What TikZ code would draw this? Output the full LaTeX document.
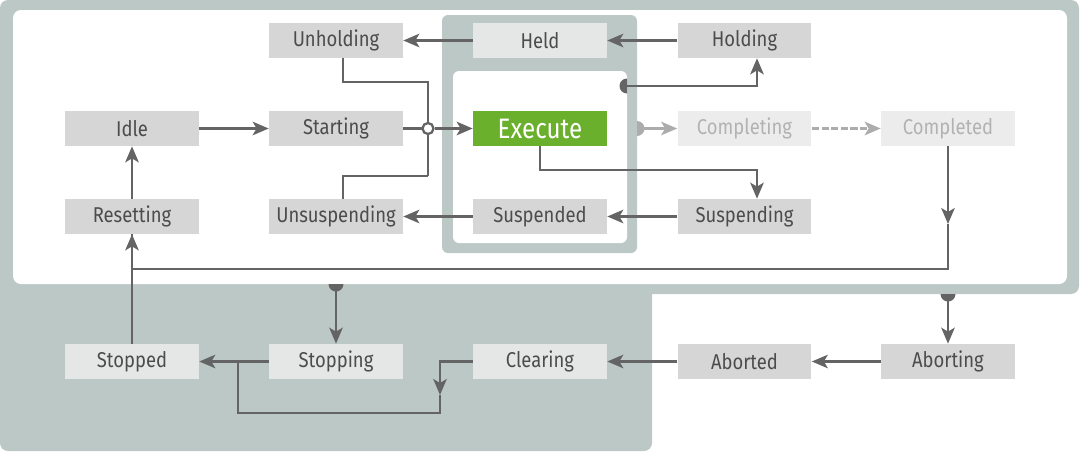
\documentclass[tikz,border=0pt]{standalone}
\usepackage{fontspec}
\setmainfont{Fira Sans}[FakeStretch=0.86]
\usepackage{xcolor}
\usepackage{tikz}
\usetikzlibrary{arrows.meta, positioning, calc}

\definecolor{framegrey}{RGB}{188,200,197}
\definecolor{boxgrey}{RGB}{214,214,214}
\definecolor{boxlight}{RGB}{228,231,230}
\definecolor{fadebox}{RGB}{236,236,236}
\definecolor{fadetext}{RGB}{178,178,178}
\definecolor{fadeline}{RGB}{172,172,172}
\definecolor{textgrey}{RGB}{76,76,76}
\definecolor{linegrey}{RGB}{100,100,100}
\definecolor{execgreen}{RGB}{106,176,45}

\begin{document}
\begin{tikzpicture}[x=0.02cm, y=-0.02cm,
  state/.style={fill=boxgrey, text=textgrey, minimum width=2.68cm, minimum height=0.7cm,
    inner sep=0pt, font=\fontsize{12.2}{14}\selectfont},
  onframe/.style={state, fill=boxlight},
  faded/.style={state, fill=fadebox, text=fadetext},
  active/.style={state, fill=execgreen, text=white, font=\fontsize{16}{18}\selectfont},
  line/.style={line width=1.3pt, draw=linegrey},
  flow/.style={line, -{Stealth[length=3.2mm, width=2.7mm, inset=0.8mm]}},
  fadeflow/.style={flow, draw=fadeline},
  junction/.style={circle, draw=linegrey, fill=white, line width=1.3pt, minimum size=0.22cm, inner sep=0pt}]

  \useasboundingbox (0,0) rectangle (1080,451);

  % Outer frame and lower left panel
  \fill[framegrey, rounded corners=0.16cm] (0,0) rectangle (1079,294);
  \fill[framegrey, rounded corners=0.16cm] (0,270) rectangle (652,451);
  \fill[white, rounded corners=0.16cm] (13,10) rectangle (1067,284);

  % Execute group
  \fill[framegrey, rounded corners=0.12cm] (442,15) rectangle (637,253);
  \fill[white, rounded corners=0.12cm] (453,71) rectangle (627,243);

  % States
  \node[state] (unholding) at (336,40.5) {Unholding};
  \node[onframe] (held) at (540,40.5) {Held};
  \node[state] (holding) at (744.5,40.5) {Holding};

  \node[state] (idle) at (132,128.5) {Idle};
  \node[state] (starting) at (336,128.5) {Starting};
  \node[active] (execute) at (540,128.5) {Execute};
  \node[faded] (completing) at (744.5,128.5) {Completing};
  \node[faded] (completed) at (948,128.5) {Completed};

  \node[state] (resetting) at (132,216.5) {Resetting};
  \node[state] (unsusp) at (336,216.5) {Unsuspending};
  \node[state] (suspended) at (540,216.5) {Suspended};
  \node[state] (suspending) at (744.5,216.5) {Suspending};

  \node[onframe] (stopped) at (132,361.5) {Stopped};
  \node[onframe] (stopping) at (336,361.5) {Stopping};
  \node[onframe] (clearing) at (540,361.5) {Clearing};
  \node[state] (aborted) at (744.5,361.5) {Aborted};
  \node[state] (aborting) at (948,361.5) {Aborting};

  % Helper points
  \coordinate (uh) at (428,82);
  \coordinate (us) at (428,176);
  \coordinate (es) at (757,170);
  \coordinate (hx) at (627,86);
  \coordinate (cx) at (637,128.5);
  \coordinate (cmid) at (948,224);
  \coordinate (back) at (948,269);
  \coordinate (sx) at (336,284);
  \coordinate (ax) at (948,294);
  \coordinate (cd) at (440,395);
  \coordinate (cb) at (440,413);
  \coordinate (cm) at (238,361.5);

  % Top row
  \draw[flow] (holding) -- (held);
  \draw[flow] (held) -- (unholding);

  % Into Execute
  \draw[flow] (idle) -- (starting);
  \draw[line] ([xshift=0.14cm]unholding.south) |- (uh) -- (us);
  \draw[line] ([xshift=0.14cm]unsusp.north) |- (us);
  \draw[line] (starting) -- (uh |- starting);
  \node[junction] (jn) at (428,128.5) {};
  \draw[flow] (jn) -- (execute);

  % Hold and suspend
  \fill[linegrey] (hx) ++(0,-7.5) arc[start angle=90, end angle=270, radius=0.15cm] -- cycle;
  \draw[flow] (hx) -| ([xshift=0.25cm]holding.south);
  \draw[flow] (execute.south) |- (es) -- (es |- suspending.north);
  \draw[flow] (suspending) -- (suspended);
  \draw[flow] (suspended) -- (unsusp);

  % Complete
  \fill[fadeline] (cx) ++(0,7.5) arc[start angle=-90, end angle=90, radius=0.15cm] -- cycle;
  \draw[fadeflow] (cx) -- (completing);
  \draw[fadeflow, dash pattern=on 4pt off 1.5pt] (completing) -- (completed);
  \draw[flow] (completed.south) -- (cmid);
  \draw[line] (cmid) -- (back) -| (resetting.south);

  % Reset
  \draw[flow] (resetting) -- (idle);
  \draw[flow] (stopped) -- (resetting);

  % Stop
  \fill[linegrey] (sx) ++(-7.5,0) arc[start angle=180, end angle=360, radius=0.15cm] -- cycle;
  \draw[flow] (sx) -- (stopping.north);
  \draw[flow] (stopping) -- (stopped);
  \draw[flow] (clearing.west) -| (cd);
  \draw[line] (cd) -- (cb) -| (cm);

  % Abort
  \fill[linegrey] (ax) ++(-7.5,0) arc[start angle=180, end angle=360, radius=0.15cm] -- cycle;
  \draw[flow] (ax) -- (aborting.north);
  \draw[flow] (aborting) -- (aborted);
  \draw[flow] (aborted) -- (clearing);
\end{tikzpicture}
\end{document}
